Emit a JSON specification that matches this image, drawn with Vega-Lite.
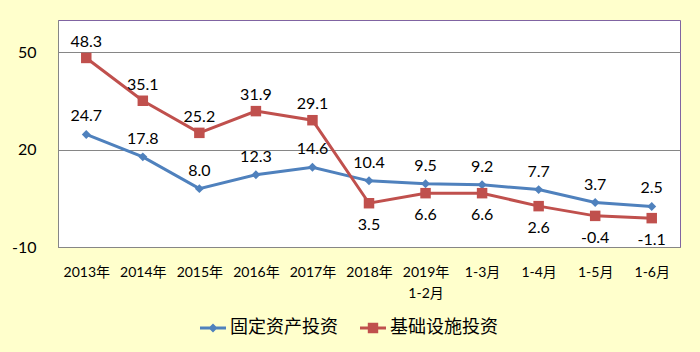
{
  "$schema": "https://vega.github.io/schema/vega-lite/v6.json",
  "autosize": "none",
  "width": 622,
  "height": 227,
  "padding": {"left": 58, "top": 20, "right": 20, "bottom": 105},
  "background": "#FFFFCC",
  "config": {
    "font": "Lato, Noto Sans CJK SC, sans-serif",
    "view": {"fill": "white", "stroke": "#8064A2", "strokeWidth": 1},
    "locale": {"number": {"decimal": ".", "thousands": ",", "grouping": [3], "currency": ["$", ""], "minus": "-"}}
  },
  "data": {
    "values": [
      {"cat": "2013年", "series": "固定资产投资", "value": 24.7},
      {"cat": "2014年", "series": "固定资产投资", "value": 17.8},
      {"cat": "2015年", "series": "固定资产投资", "value": 8.0},
      {"cat": "2016年", "series": "固定资产投资", "value": 12.3},
      {"cat": "2017年", "series": "固定资产投资", "value": 14.6},
      {"cat": "2018年", "series": "固定资产投资", "value": 10.4},
      {"cat": "2019年 1-2月", "series": "固定资产投资", "value": 9.5},
      {"cat": "1-3月", "series": "固定资产投资", "value": 9.2},
      {"cat": "1-4月", "series": "固定资产投资", "value": 7.7},
      {"cat": "1-5月", "series": "固定资产投资", "value": 3.7},
      {"cat": "1-6月", "series": "固定资产投资", "value": 2.5},
      {"cat": "2013年", "series": "基础设施投资", "value": 48.3},
      {"cat": "2014年", "series": "基础设施投资", "value": 35.1},
      {"cat": "2015年", "series": "基础设施投资", "value": 25.2},
      {"cat": "2016年", "series": "基础设施投资", "value": 31.9},
      {"cat": "2017年", "series": "基础设施投资", "value": 29.1},
      {"cat": "2018年", "series": "基础设施投资", "value": 3.5},
      {"cat": "2019年 1-2月", "series": "基础设施投资", "value": 6.6},
      {"cat": "1-3月", "series": "基础设施投资", "value": 6.6},
      {"cat": "1-4月", "series": "基础设施投资", "value": 2.6},
      {"cat": "1-5月", "series": "基础设施投资", "value": -0.4},
      {"cat": "1-6月", "series": "基础设施投资", "value": -1.1}
    ]
  },
  "encoding": {
    "x": {
      "field": "cat",
      "type": "nominal",
      "sort": null,
      "scale": {"type": "point", "padding": 0.5},
      "axis": {
        "title": null,
        "labelAngle": 0,
        "ticks": false,
        "grid": false,
        "domainColor": "#868686",
        "labelFontSize": 14,
        "labelColor": "black",
        "labelPadding": 18,
        "labelLineHeight": 21,
        "labelExpr": "split(datum.value, ' ')"
      }
    },
    "y": {
      "field": "value",
      "type": "quantitative",
      "scale": {"domain": [-10, 60], "nice": false, "zero": false},
      "axis": {
        "title": null,
        "values": [-10, 20, 50],
        "ticks": false,
        "domainColor": "#868686",
        "gridColor": "#868686",
        "gridWidth": 1,
        "labelFontSize": 16,
        "labelColor": "black",
        "labelPadding": 22
      }
    }
  },
  "layer": [
    {
      "mark": {"type": "line", "strokeWidth": 3},
      "encoding": {
        "color": {
          "field": "series",
          "type": "nominal",
          "sort": ["固定资产投资", "基础设施投资"],
          "scale": {"domain": ["固定资产投资", "基础设施投资"], "range": ["#4F81BD", "#C0504D"]},
          "legend": {
            "title": null,
            "orient": "none",
            "legendX": 142,
            "legendY": 295,
            "direction": "horizontal",
            "columns": 2,
            "columnPadding": 22,
            "labelFontSize": 18,
            "labelColor": "black",
            "labelLimit": 300,
            "labelOffset": 4,
            "symbolSize": 676,
            "encode": {
              "symbols": {
                "update": {
                  "shape": {"signal": "datum.value === '固定资产投资' ? 'M-1,-0.115H1V0.115H-1Z M0,-0.35L0.35,0L0,0.35L-0.35,0Z' : 'M-1,-0.115H1V0.115H-1Z M-0.4,-0.4H0.4V0.4H-0.4Z'"},
                  "fill": {"signal": "datum.value === '固定资产投资' ? '#4F81BD' : '#C0504D'"},
                  "fillOpacity": {"value": 1},
                  "strokeWidth": {"value": 0},
                  "opacity": {"value": 1}
                }
              }
            }
          }
        }
      }
    },
    {
      "transform": [{"filter": "datum.series === '固定资产投资'"}],
      "mark": {"type": "point", "filled": true, "opacity": 1, "shape": "diamond", "size": 80, "color": "#4F81BD"}
    },
    {
      "transform": [{"filter": "datum.series === '基础设施投资'"}],
      "mark": {"type": "point", "filled": true, "opacity": 1, "shape": "square", "size": 110, "color": "#C0504D"}
    },
    {
      "transform": [{"filter": "datum.series === '固定资产投资'"}],
      "mark": {"type": "text", "dy": -18, "fontSize": 16, "color": "black", "baseline": "middle"},
      "encoding": {"text": {"field": "value", "type": "quantitative", "format": ".1f"}}
    },
    {
      "transform": [
        {"filter": "datum.series === '基础设施投资'"},
        {"filter": {"field": "cat", "oneOf": ["2013年", "2014年", "2015年", "2016年", "2017年"]}}
      ],
      "mark": {"type": "text", "dy": -16, "fontSize": 16, "color": "black", "baseline": "middle"},
      "encoding": {"text": {"field": "value", "type": "quantitative", "format": ".1f"}}
    },
    {
      "transform": [
        {"filter": "datum.series === '基础设施投资'"},
        {"filter": {"not": {"field": "cat", "oneOf": ["2013年", "2014年", "2015年", "2016年", "2017年"]}}}
      ],
      "mark": {"type": "text", "dy": 22, "fontSize": 16, "color": "black", "baseline": "middle"},
      "encoding": {"text": {"field": "value", "type": "quantitative", "format": ".1f"}}
    }
  ]
}
